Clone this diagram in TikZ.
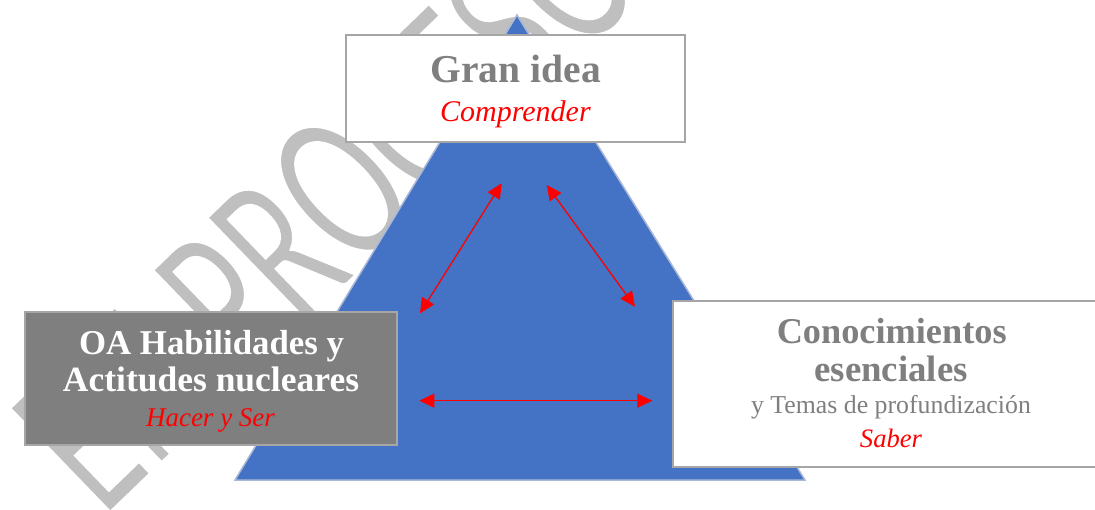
\documentclass[tikz,border=0pt]{standalone}
\usepackage{fontspec}
\setmainfont{Liberation Serif}
\newfontfamily\wmfont{Carlito}
\usetikzlibrary{arrows.meta}
\definecolor{triblue}{HTML}{4472C4}
\definecolor{triedge}{HTML}{A9B8D6}
\definecolor{boxgrey}{HTML}{A6A6A6}
\definecolor{darkfill}{HTML}{7F7F7F}
\definecolor{txtgrey}{HTML}{7F7F7F}
\definecolor{wmgrey}{HTML}{BFBFBF}
\definecolor{arrred}{HTML}{FF0000}
\newcommand{\fsz}[1]{\fontsize{#1}{#1}\selectfont}
\newcommand{\thinwm}[1]{\special{pdf:code 2 Tr 1 G 1.5 w}#1\special{pdf:code 0 Tr}}
\tikzset{
  boxwhite/.style={draw=boxgrey, line width=2.5pt, fill=white, inner sep=0pt},
  boxdark/.style={draw=boxgrey, line width=2.5pt, fill=darkfill, inner sep=0pt},
  txt/.style={inner sep=0pt, anchor=base},
  dblarrow/.style={draw=arrred, line width=1.3pt,
    {Triangle[length=15pt,width=14pt]}-{Triangle[length=15pt,width=14pt]}},
  wmark/.style={inner sep=0pt, anchor=base west, text=wmgrey, font=\wmfont\fsz{146}}
}
\begin{document}
\begin{tikzpicture}[x=1pt,y=-1pt]
\useasboundingbox (0,0) rectangle (1095,510);
\clip (0,0) rectangle (1095,510);
% watermark
\node[wmark, rotate=44, yscale=1.54] (wm) at (103,519) {\thinwm{EN PROCESO}};
% triangle
\coordinate (apex) at (517,15);
\coordinate (bl) at (235,480);
\coordinate (br) at (805,480);
\path[fill=triblue, draw=triedge, line width=1.5pt] (apex) -- (bl) -- (br) -- cycle;
% boxes
\node[boxwhite, minimum width=339pt, minimum height=107pt] (topbox) at (515.5,88.5) {};
\node[boxdark, minimum width=372pt, minimum height=133pt] (leftbox) at (211,378.5) {};
\node[boxwhite, minimum width=437pt, minimum height=166pt] (rightbox) at (891.5,384) {};
% texts
\node[txt, text=txtgrey, font=\bfseries\fsz{39.5}] (t1) at (515.7,83) {Gran idea};
\node[txt, text=arrred, font=\itshape\fsz{30}] (t2) at (515.4,121.7) {Comprender};
\node[txt, text=white, font=\bfseries\fsz{34.8}] (l1) at (211.5,354.3) {OA Habilidades y};
\node[txt, text=white, font=\bfseries\fsz{35.5}] (l2) at (211,391.7) {Actitudes nucleares};
\node[txt, text=arrred, font=\itshape\fsz{27}] (l3) at (210.5,426.7) {Hacer y Ser};
\node[txt, text=txtgrey, font=\bfseries\fsz{36.3}] (r1) at (891.7,343.3) {Conocimientos};
\node[txt, text=txtgrey, font=\bfseries\fsz{36.8}] (r2) at (891,382) {esenciales};
\node[txt, text=txtgrey, font=\fsz{25.8}] (r3) at (891,413.3) {y Temas de profundización};
\node[txt, text=arrred, font=\itshape\fsz{26.6}] (r4) at (891,447.3) {Saber};
% arrow ends
\coordinate (a1s) at (501.7,183.3);
\coordinate (a1e) at (420,313.3);
\coordinate (a2s) at (546.7,185);
\coordinate (a2e) at (635,306.7);
\coordinate (a3s) at (419.3,400.7);
\coordinate (a3e) at (652.3,400.7);
\draw[dblarrow] (a1s) -- (a1e);
\draw[dblarrow] (a2s) -- (a2e);
\draw[dblarrow] (a3s) -- (a3e);
\end{tikzpicture}
\end{document}
